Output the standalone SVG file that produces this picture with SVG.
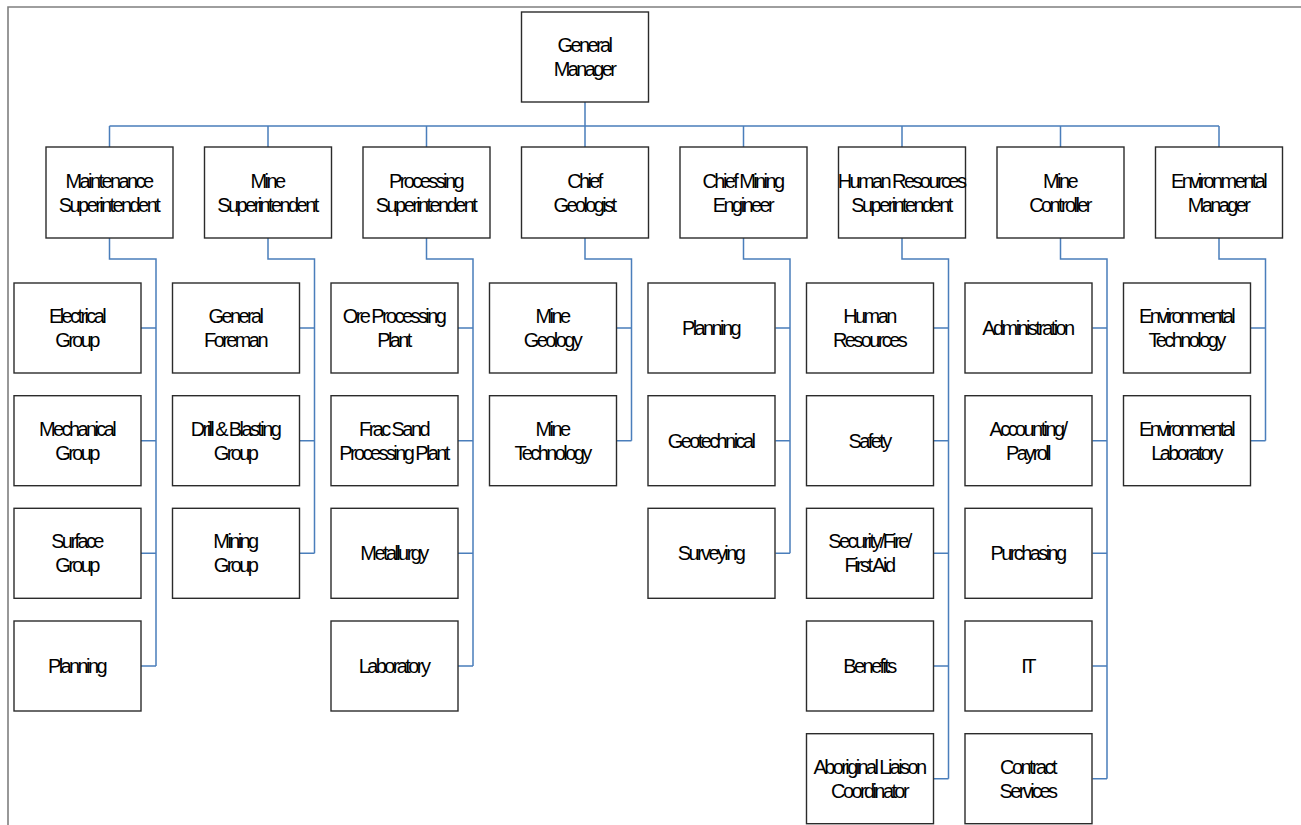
<svg xmlns="http://www.w3.org/2000/svg" width="1301" height="825" viewBox="0 0 1301 825">
<style>
.b{fill:#fff;stroke:#2b2b2b;stroke-width:1.4}
.t{font-family:"Liberation Sans",Arial,sans-serif;font-size:20px;letter-spacing:-2.6px;text-anchor:middle;fill:#000}
.c{fill:none;stroke:#4a7ebb;stroke-width:1.5}
</style>
<rect width="1301" height="825" fill="#fff"/>
<path d="M8,825 V7 H1301" fill="none" stroke="#7f7f7f" stroke-width="1.6"/>
<g id="connectors" class="c">
<path d="M585,102 V147 M109.5,126 H1219 M109.5,126 V147 M268,126 V147 M426.5,126 V147 M743.5,126 V147 M902,126 V147 M1060.5,126 V147 M1219,126 V147"/>
<path d="M109.5,238 V259 H156 V666 M141,328 H156 M141,440.7 H156 M141,553.3 H156 M141,666 H156"/>
<path d="M268,238 V259 H314.5 V553.3 M299.5,328 H314.5 M299.5,440.7 H314.5 M299.5,553.3 H314.5"/>
<path d="M426.5,238 V259 H473 V666 M458,328 H473 M458,440.7 H473 M458,553.3 H473 M458,666 H473"/>
<path d="M585,238 V259 H631.5 V440.7 M616.5,328 H631.5 M616.5,440.7 H631.5"/>
<path d="M743.5,238 V259 H790 V553.3 M775.5,328 H790 M775.5,440.7 H790 M775.5,553.3 H790"/>
<path d="M902,238 V259 H948.5 V778.7 M934,328 H948.5 M934,440.7 H948.5 M934,553.3 H948.5 M934,666 H948.5 M934,778.7 H948.5"/>
<path d="M1060.5,238 V259 H1107 V778.7 M1092.5,328 H1107 M1092.5,440.7 H1107 M1092.5,553.3 H1107 M1092.5,666 H1107 M1092.5,778.7 H1107"/>
<path d="M1219,238 V259 H1265.5 V440.7 M1251,328 H1265.5 M1251,440.7 H1265.5"/>
</g>
<g id="n-gm"><rect class="b" x="521.5" y="12" width="127" height="90"/><text class="t" x="584" y="52">General</text><text class="t" x="584" y="76">Manager</text></g>
<g id="n-maint"><rect class="b" x="46" y="147" width="127" height="91"/><text class="t" x="108.5" y="188">Maintenance</text><text class="t" x="108.5" y="211.5">Superintendent</text></g>
<g id="n-minesup"><rect class="b" x="204.5" y="147" width="127" height="91"/><text class="t" x="267" y="188">Mine</text><text class="t" x="267" y="211.5">Superintendent</text></g>
<g id="n-procsup"><rect class="b" x="363" y="147" width="127" height="91"/><text class="t" x="425.5" y="188">Processing</text><text class="t" x="425.5" y="211.5">Superintendent</text></g>
<g id="n-geol"><rect class="b" x="521.5" y="147" width="127" height="91"/><text class="t" x="584" y="188">Chief</text><text class="t" x="584" y="211.5">Geologist</text></g>
<g id="n-cme"><rect class="b" x="680" y="147" width="127" height="91"/><text class="t" x="742.5" y="188">Chief Mining</text><text class="t" x="742.5" y="211.5">Engineer</text></g>
<g id="n-hrsup"><rect class="b" x="838.5" y="147" width="127" height="91"/><text class="t" x="901" y="188">Human Resources</text><text class="t" x="901" y="211.5">Superintendent</text></g>
<g id="n-mc"><rect class="b" x="997" y="147" width="127" height="91"/><text class="t" x="1059.5" y="188">Mine</text><text class="t" x="1059.5" y="211.5">Controller</text></g>
<g id="n-env"><rect class="b" x="1155.5" y="147" width="127" height="91"/><text class="t" x="1218" y="188">Environmental</text><text class="t" x="1218" y="211.5">Manager</text></g>

<g id="n-elec"><rect class="b" x="14" y="283" width="127" height="90"/><text class="t" x="76.5" y="323">Electrical</text><text class="t" x="76.5" y="347">Group</text></g>
<g id="n-mech"><rect class="b" x="14" y="395.7" width="127" height="90"/><text class="t" x="76.5" y="435.7">Mechanical</text><text class="t" x="76.5" y="459.7">Group</text></g>
<g id="n-surf"><rect class="b" x="14" y="508.3" width="127" height="90"/><text class="t" x="76.5" y="548.3">Surface</text><text class="t" x="76.5" y="572.3">Group</text></g>
<g id="n-plan1"><rect class="b" x="14" y="621" width="127" height="90"/><text class="t" x="76.5" y="673">Planning</text></g>

<g id="n-gf"><rect class="b" x="172.5" y="283" width="127" height="90"/><text class="t" x="235" y="323">General</text><text class="t" x="235" y="347">Foreman</text></g>
<g id="n-drill"><rect class="b" x="172.5" y="395.7" width="127" height="90"/><text class="t" x="235" y="435.7">Drill &amp; Blasting</text><text class="t" x="235" y="459.7">Group</text></g>
<g id="n-mining"><rect class="b" x="172.5" y="508.3" width="127" height="90"/><text class="t" x="235" y="548.3">Mining</text><text class="t" x="235" y="572.3">Group</text></g>

<g id="n-ore"><rect class="b" x="331" y="283" width="127" height="90"/><text class="t" x="393.5" y="323">Ore Processing</text><text class="t" x="393.5" y="347">Plant</text></g>
<g id="n-frac"><rect class="b" x="331" y="395.7" width="127" height="90"/><text class="t" x="393.5" y="435.7">Frac Sand</text><text class="t" x="393.5" y="459.7">Processing Plant</text></g>
<g id="n-met"><rect class="b" x="331" y="508.3" width="127" height="90"/><text class="t" x="393.5" y="560.3">Metallurgy</text></g>
<g id="n-lab"><rect class="b" x="331" y="621" width="127" height="90"/><text class="t" x="393.5" y="673">Laboratory</text></g>

<g id="n-mgeo"><rect class="b" x="489.5" y="283" width="127" height="90"/><text class="t" x="552" y="323">Mine</text><text class="t" x="552" y="347">Geology</text></g>
<g id="n-mtech"><rect class="b" x="489.5" y="395.7" width="127" height="90"/><text class="t" x="552" y="435.7">Mine</text><text class="t" x="552" y="459.7">Technology</text></g>

<g id="n-plan2"><rect class="b" x="648" y="283" width="127" height="90"/><text class="t" x="710.5" y="335">Planning</text></g>
<g id="n-geot"><rect class="b" x="648" y="395.7" width="127" height="90"/><text class="t" x="710.5" y="447.7">Geotechnical</text></g>
<g id="n-surv"><rect class="b" x="648" y="508.3" width="127" height="90"/><text class="t" x="710.5" y="560.3">Surveying</text></g>

<g id="n-hr"><rect class="b" x="806.5" y="283" width="127" height="90"/><text class="t" x="869" y="323">Human</text><text class="t" x="869" y="347">Resources</text></g>
<g id="n-safety"><rect class="b" x="806.5" y="395.7" width="127" height="90"/><text class="t" x="869" y="447.7">Safety</text></g>
<g id="n-sec"><rect class="b" x="806.5" y="508.3" width="127" height="90"/><text class="t" x="869" y="548.3">Security/Fire/</text><text class="t" x="869" y="572.3">First Aid</text></g>
<g id="n-ben"><rect class="b" x="806.5" y="621" width="127" height="90"/><text class="t" x="869" y="673">Benefits</text></g>
<g id="n-abo"><rect class="b" x="806.5" y="733.7" width="127" height="90"/><text class="t" x="869" y="773.7">Aboriginal Liaison</text><text class="t" x="869" y="797.7">Coordinator</text></g>

<g id="n-admin"><rect class="b" x="965" y="283" width="127" height="90"/><text class="t" x="1027.5" y="335">Administration</text></g>
<g id="n-acct"><rect class="b" x="965" y="395.7" width="127" height="90"/><text class="t" x="1027.5" y="435.7">Accounting/</text><text class="t" x="1027.5" y="459.7">Payroll</text></g>
<g id="n-purch"><rect class="b" x="965" y="508.3" width="127" height="90"/><text class="t" x="1027.5" y="560.3">Purchasing</text></g>
<g id="n-it"><rect class="b" x="965" y="621" width="127" height="90"/><text class="t" x="1027.5" y="673">IT</text></g>
<g id="n-contract"><rect class="b" x="965" y="733.7" width="127" height="90"/><text class="t" x="1027.5" y="773.7">Contract</text><text class="t" x="1027.5" y="797.7">Services</text></g>

<g id="n-envtech"><rect class="b" x="1123.5" y="283" width="127" height="90"/><text class="t" x="1186" y="323">Environmental</text><text class="t" x="1186" y="347">Technology</text></g>
<g id="n-envlab"><rect class="b" x="1123.5" y="395.7" width="127" height="90"/><text class="t" x="1186" y="435.7">Environmental</text><text class="t" x="1186" y="459.7">Laboratory</text></g>
</svg>
